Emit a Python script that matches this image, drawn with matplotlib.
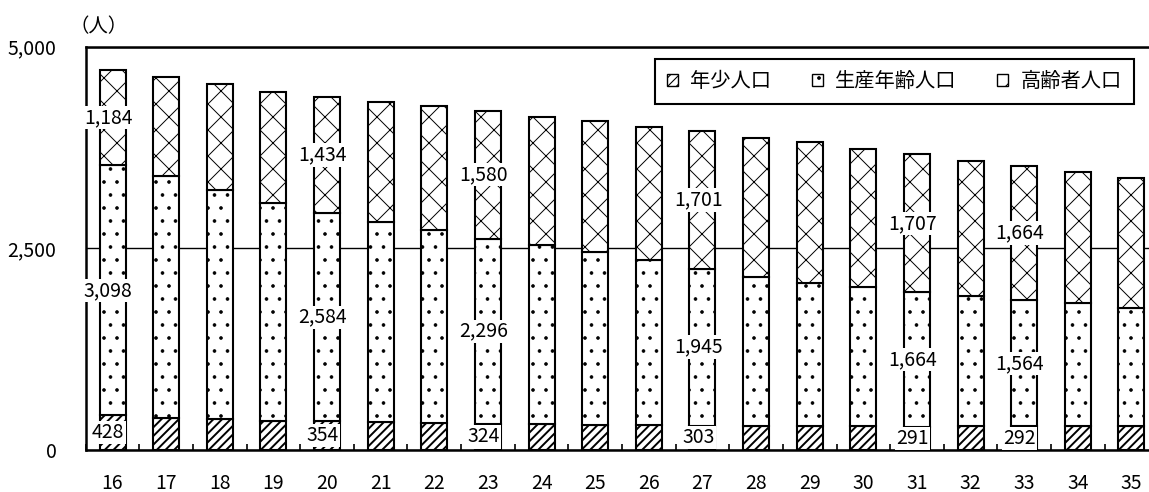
import matplotlib
matplotlib.use("Agg")
import matplotlib.pyplot as plt
import numpy as np
from matplotlib.patches import Patch

plt.rcParams['font.family'] = ['Noto Sans CJK JP', 'DejaVu Sans']
plt.rcParams['hatch.linewidth'] = 1.0
plt.rcParams['hatch.color'] = 'black'

years = ["16", "17", "18", "19", "20", "21", "22", "23", "24", "25",
         "26", "27", "28", "29", "30", "31", "32", "33", "34", "35"]
young = [428, 400, 380, 365, 354, 345, 335, 324, 318, 312,
         307, 303, 300, 297, 294, 291, 292, 292, 292, 292]
working = [3098, 2992, 2846, 2696, 2584, 2485, 2396, 2296, 2227, 2138,
           2044, 1945, 1844, 1777, 1730, 1664, 1613, 1564, 1526, 1468]
elderly = [1184, 1231, 1307, 1376, 1434, 1487, 1537, 1580, 1586, 1632,
           1656, 1701, 1727, 1747, 1703, 1707, 1677, 1664, 1631, 1611]
labelled = ["16", "20", "23", "27", "31", "33"]

series_names = ["年少人口", "生産年齢人口", "高齢者人口"]
hatches = ["///", ".", "x"]
hatch_lw = [1.8, 0.9, 0.9]

# a low dpi gives hatch spacing close to the original; sizes are scaled back
DPI = 78
S = 100 / DPI
W, H = 1149, 492
fig = plt.figure(figsize=(W / DPI, H / DPI), dpi=DPI)
# axes run slightly past the right edge of the picture, as in the original
ax = fig.add_axes([85.7 / W, (H - 450) / H, (1158.3 - 85.7) / W, (450 - 46.5) / H])

x = np.arange(len(years))
young = np.array(young)
working = np.array(working)
elderly = np.array(elderly)

segments = [(young, np.zeros(len(years))),
            (working, young),
            (elderly, young + working)]

for (vals, base), h, hl in zip(segments, hatches, hatch_lw):
    bars = ax.bar(x, vals, bottom=base, width=0.485, color="white",
                  edgecolor="black", linewidth=1.5 * S, hatch=h, zorder=2)
    for b in bars:
        if hasattr(b, "set_hatch_linewidth"):
            b.set_hatch_linewidth(hl)

fs = 14 * S

# value labels with white background
for i, yr in enumerate(years):
    if yr not in labelled:
        continue
    for vals, base in segments:
        ax.text(x[i] - 0.08, base[i] + vals[i] / 2, f"{vals[i]:,}",
                ha="center", va="center", fontsize=fs, zorder=5,
                bbox=dict(facecolor="white", edgecolor="none", pad=1.0))

ax.set_xlim(-0.5, len(years) - 0.5)
ax.set_ylim(0, 5000)
ax.set_yticks([0, 2500, 5000])
ax.set_yticklabels(["0", "2,500", "5,000"])
ax.set_xticks(x)
ax.set_xticklabels(years)
ax.set_xticks(np.arange(len(years) + 1) - 0.5, minor=True)

ax.tick_params(axis="y", length=0, pad=21 * S, labelsize=fs)
ax.tick_params(axis="x", which="major", length=0, pad=16.5 * S, labelsize=fs)
ax.tick_params(axis="x", which="minor", direction="in", length=4.5 * S, width=1.2 * S)

ax.yaxis.grid(True, color="black", linewidth=1.0 * S)
ax.set_axisbelow(True)

for side in ["top", "left", "bottom", "right"]:
    ax.spines[side].set_linewidth(1.8 * S)

fig.text(99 / W, 1 - 27 / H, "（人）", ha="center", va="center", fontsize=fs)

handles = []
for h, hl in zip(hatches, hatch_lw):
    p = Patch(facecolor="white", edgecolor="black", hatch=h, linewidth=1.0 * S)
    if hasattr(p, "set_hatch_linewidth"):
        p.set_hatch_linewidth(hl)
    handles.append(p)
leg = fig.legend(handles, series_names, ncol=3, loc="upper right",
                 bbox_to_anchor=(1134 / W, 1 - 59 / H), fontsize=14.6 * S,
                 fancybox=False, framealpha=1, edgecolor="black",
                 handlelength=0.55, handleheight=0.55, handletextpad=0.6,
                 columnspacing=2.0, borderpad=0.6, borderaxespad=0)
leg.get_frame().set_linewidth(1.5 * S)

fig.savefig("out.png", dpi=DPI)
